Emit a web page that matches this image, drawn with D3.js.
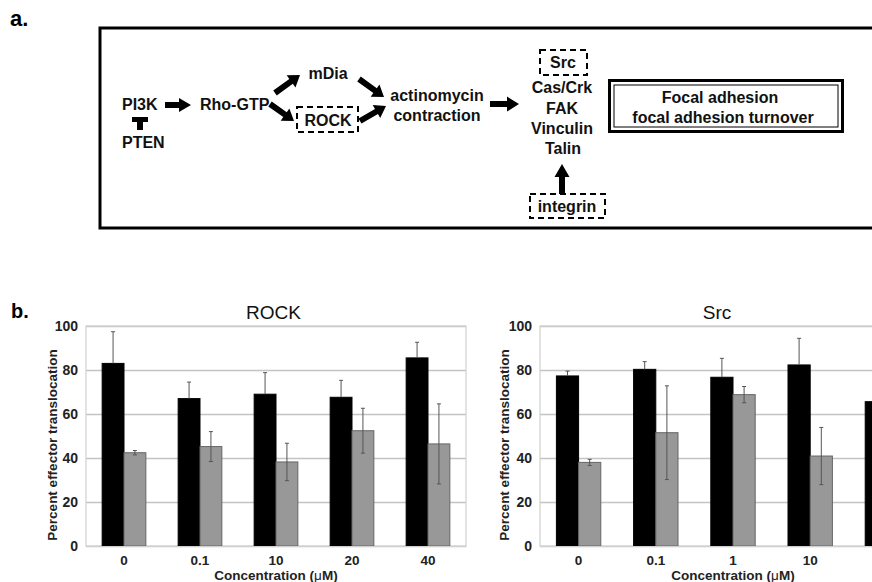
<!DOCTYPE html>
<html>
<head>
<meta charset="utf-8">
<script src="https://cdn.jsdelivr.net/npm/d3@7"></script>
<style>
html,body{margin:0;padding:0;background:#fff;}
svg{display:block;font-family:"Liberation Sans",Arial,Helvetica,sans-serif;}
</style>
</head>
<body>
<svg id="fig" width="872" height="582"></svg>
<script>
// ---------- DATA ----------
const rockCats = ["0", "0.1", "10", "20", "40"];
const rockCtrl = [83, 67, 69, 67.6, 85.5];
const rockCtrlErr = [14.4, 7.5, 9.8, 7.7, 7.1];
const rockTreat = [42.4, 45.2, 38.2, 52.4, 46.4];
const rockTreatErr = [1, 6.8, 8.5, 10.2, 18.2];

const srcCats = ["0", "0.1", "1", "10", "20"];
const srcCtrl = [77.3, 80.3, 76.7, 82.3, 65.6];
const srcCtrlErr = [2.2, 3.5, 8.6, 12.1, 6];
const srcTreat = [38, 51.5, 68.8, 40.9, 40];
const srcTreatErr = [1.4, 21.3, 3.7, 13, 8];

const yTicks = [0, 20, 40, 60, 80, 100];
const seriesNames = ["control", "treated"];
const seriesColors = ["#000000", "#989898"];

const W = 872;
const svg = d3.select("#fig");
const FONT = '"Liberation Sans",Arial,Helvetica,sans-serif';

// ---------- PANEL a : pathway diagram ----------
svg.append("text").attr("x", 10).attr("y", 26).attr("font-size", 22).attr("font-weight", "bold").text("a.");

const dg = svg.append("g");
dg.append("rect").attr("x", 100).attr("y", 28).attr("width", 900).attr("height", 200)
  .attr("fill", "none").attr("stroke", "#000").attr("stroke-width", 3);

function blockArrow(x1, y1, x2, y2, sw = 6, hw = 15, hl = 11) {
  const L = Math.hypot(x2 - x1, y2 - y1);
  const a = Math.atan2(y2 - y1, x2 - x1) * 180 / Math.PI;
  const p = d3.path();
  p.moveTo(0, -sw / 2); p.lineTo(L - hl, -sw / 2); p.lineTo(L - hl, -hw / 2); p.lineTo(L, 0);
  p.lineTo(L - hl, hw / 2); p.lineTo(L - hl, sw / 2); p.lineTo(0, sw / 2); p.closePath();
  dg.append("path").attr("d", p.toString()).attr("fill", "#000")
    .attr("transform", `translate(${x1},${y1}) rotate(${a})`);
}
function label(x, y, t, anchor = "middle", fs = 16) {
  dg.append("text").attr("x", x).attr("y", y + fs * 0.36).attr("text-anchor", anchor)
    .attr("font-size", fs).attr("font-weight", "bold").attr("fill", "#111").text(t);
}
function dashBox(x, y, w, h) {
  dg.append("rect").attr("x", x).attr("y", y).attr("width", w).attr("height", h)
    .attr("fill", "none").attr("stroke", "#000").attr("stroke-width", 2).attr("stroke-dasharray", "6,4");
}

label(122, 104, "PI3K", "start");
label(122, 142, "PTEN", "start");
dg.append("rect").attr("x", 132).attr("y", 117).attr("width", 16).attr("height", 5).attr("fill", "#000");
dg.append("rect").attr("x", 137).attr("y", 117).attr("width", 6).attr("height", 13).attr("fill", "#000");
blockArrow(165, 105, 191, 105, 6, 14, 12);
label(200, 104, "Rho-GTP", "start");
blockArrow(275, 93, 300, 75, 6, 15, 11);
blockArrow(270, 104, 294, 121, 6, 15, 11);
label(328, 73, "mDia");
dashBox(297, 107, 61, 25);
label(328, 120, "ROCK");
blockArrow(359, 79, 384, 97, 6, 15, 11);
blockArrow(360, 121, 386, 106, 6, 15, 11);
label(437, 95, "actinomycin");
label(437, 115, "contraction");
blockArrow(490, 104, 519, 104, 6, 15, 12);
dashBox(540, 50, 47, 25);
label(563, 62, "Src");
label(562, 87, "Cas/Crk");
label(562, 108, "FAK");
label(562, 128, "Vinculin");
label(563, 148, "Talin");
blockArrow(562, 194, 562, 164, 6, 15, 13);
dashBox(530, 194, 75, 24);
label(567, 206, "integrin");
dg.append("rect").attr("x", 609.5).attr("y", 80.5).attr("width", 233).attr("height", 51)
  .attr("fill", "none").attr("stroke", "#000").attr("stroke-width", 3);
dg.append("rect").attr("x", 614).attr("y", 85).attr("width", 224).attr("height", 42)
  .attr("fill", "none").attr("stroke", "#000").attr("stroke-width", 1);
label(720, 97, "Focal adhesion");
label(723, 117, "focal adhesion turnover");

// ---------- PANEL b : bar charts ----------
svg.append("text").attr("x", 11).attr("y", 318).attr("font-size", 20).attr("font-weight", "bold").text("b.");

function barChart(cfg) {
  const {left, right, top, bottom, cats, ctrl, ctrlErr, treat, treatErr, title, titleX, ylabX} = cfg;
  const g = svg.append("g");
  const x = d3.scaleBand().domain(cats).range([left, right]).paddingInner(0.425).paddingOuter(0.2125);
  const xs = d3.scaleBand().domain(seriesNames).range([0, x.bandwidth()]);
  const y = d3.scaleLinear().domain([0, 100]).range([bottom, top]);

  // gridlines
  g.append("g").attr("transform", `translate(${left},0)`)
    .call(d3.axisLeft(y).tickValues(yTicks).tickSize(-(right - left)).tickFormat(""))
    .call(a => a.select(".domain").remove())
    .call(a => a.selectAll("line").attr("stroke", "#c4c4c4").attr("stroke-width", 1.5));
  // plot frame
  g.append("rect").attr("x", left).attr("y", top).attr("width", right - left).attr("height", bottom - top)
    .attr("fill", "none").attr("stroke", "#d0d0d0").attr("stroke-width", 1.2);

  const data = cats.map((c, i) => ({c, vals: [
    {s: "control", v: ctrl[i], e: ctrlErr[i]},
    {s: "treated", v: treat[i], e: treatErr[i]}]}));
  const grp = g.selectAll(".grp").data(data).join("g").attr("transform", d => `translate(${x(d.c)},0)`);
  grp.selectAll("rect").data(d => d.vals).join("rect")
    .attr("x", d => xs(d.s)).attr("width", xs.bandwidth())
    .attr("y", d => y(d.v)).attr("height", d => y(0) - y(d.v))
    .attr("fill", (d, i) => seriesColors[i])
    .attr("stroke", (d, i) => i ? "#666" : "#000").attr("stroke-width", 1);
  // error bars (lower half of the control bar is hidden inside the black bar)
  const cx = d => xs(d.s) + xs.bandwidth() / 2;
  const eb = grp.selectAll(".eb").data(d => d.vals).join("g").attr("class", "eb");
  eb.append("line").attr("x1", cx).attr("x2", cx)
    .attr("y1", d => y(d.v + d.e)).attr("y2", (d, i) => i ? y(d.v - d.e) : y(d.v))
    .attr("stroke", "#555").attr("stroke-width", 1);
  eb.append("line").attr("x1", d => cx(d) - 2).attr("x2", d => cx(d) + 2)
    .attr("y1", d => y(d.v + d.e)).attr("y2", d => y(d.v + d.e))
    .attr("stroke", "#555").attr("stroke-width", 1);
  eb.filter((d, i) => i === 1).append("line")
    .attr("x1", d => cx(d) - 2).attr("x2", d => cx(d) + 2)
    .attr("y1", d => y(d.v - d.e)).attr("y2", d => y(d.v - d.e))
    .attr("stroke", "#555").attr("stroke-width", 1);

  // y axis labels
  g.append("g").attr("transform", `translate(${left},0)`)
    .call(d3.axisLeft(y).tickValues(yTicks).tickSize(0).tickPadding(8))
    .call(a => a.select(".domain").remove())
    .call(a => a.selectAll("text").attr("font-size", 14).attr("font-weight", "bold").attr("fill", "#222").attr("font-family", FONT));
  // x axis labels (labels falling outside the picture are not shown, as in the cropped original)
  g.append("g").attr("transform", `translate(0,${bottom})`)
    .call(d3.axisBottom(x).tickSize(0).tickPadding(9))
    .call(a => a.select(".domain").attr("stroke", "#d0d0d0"))
    .call(a => a.selectAll(".tick").filter(d => x(d) + x.bandwidth() / 2 > W - 10).remove())
    .call(a => a.selectAll("text").attr("font-size", 13.5).attr("font-weight", "bold").attr("fill", "#222").attr("font-family", FONT));

  g.append("text").attr("x", titleX).attr("y", 319).attr("text-anchor", "middle")
    .attr("font-size", 19).attr("fill", "#111").text(title);
  g.append("text").attr("transform", `translate(${ylabX},445) rotate(-90)`).attr("text-anchor", "middle")
    .attr("font-size", 13.5).attr("font-weight", "bold").attr("fill", "#222").text("Percent effector translocation");
  const xt = g.append("text").attr("x", (left + right) / 2).attr("y", 580).attr("text-anchor", "middle")
    .attr("font-size", 13.5).attr("font-weight", "bold").attr("fill", "#222");
  xt.append("tspan").text("Concentration (");
  xt.append("tspan").attr("font-weight", "normal").text("\u03BC");
  xt.append("tspan").text("M)");
}

barChart({left: 86, right: 466, top: 326, bottom: 546, cats: rockCats,
  ctrl: rockCtrl, ctrlErr: rockCtrlErr, treat: rockTreat, treatErr: rockTreatErr,
  title: "ROCK", titleX: 273.5, ylabX: 57});
barChart({left: 540, right: 926, top: 326, bottom: 546, cats: srcCats,
  ctrl: srcCtrl, ctrlErr: srcCtrlErr, treat: srcTreat, treatErr: srcTreatErr,
  title: "Src", titleX: 717, ylabX: 509});
</script>
</body>
</html>
